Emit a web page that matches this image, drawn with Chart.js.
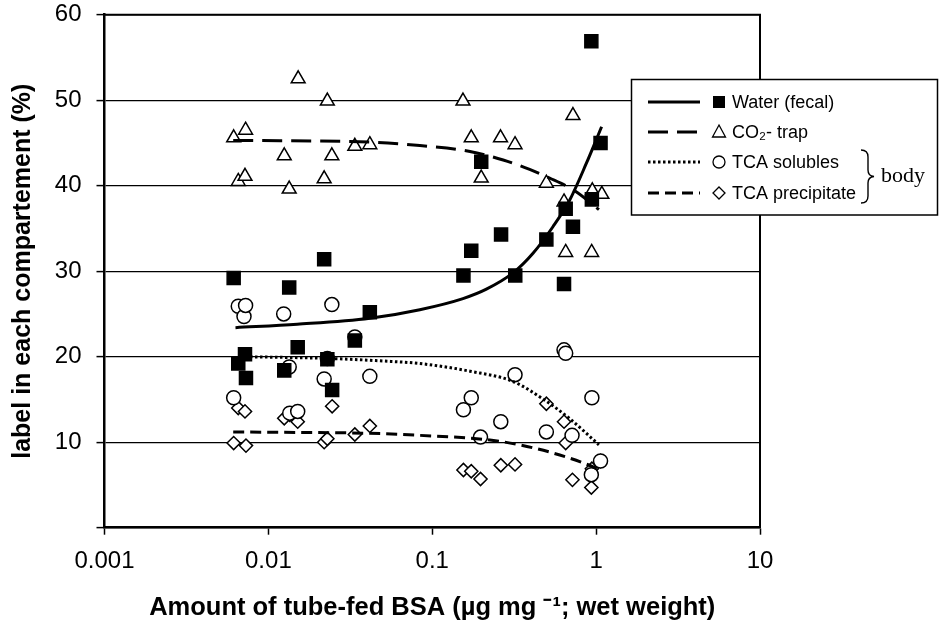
<!DOCTYPE html>
<html>
<head>
<meta charset="utf-8">
<title>Tube-fed BSA label distribution</title>
<script src="https://cdn.jsdelivr.net/npm/chart.js@4.4.1/dist/chart.umd.min.js"></script>
<style>
    html, body { margin: 0; padding: 0; background: #ffffff; }
</style>
</head>
<body>
<canvas id="bsaChart" width="939" height="625"></canvas>
<script>
// Values (x = µg/mg, y = % label)
const xTicks = [0.001, 0.01, 0.1, 1, 10];

const waterX = [0.00614, 0.00655, 0.0072, 0.0073, 0.0125, 0.0134, 0.0151, 0.0219, 0.0229, 0.0245, 0.0337, 0.0416,
                0.155, 0.173, 0.199, 0.263, 0.321, 0.497, 0.637, 0.652, 0.722, 0.935, 0.942, 1.064];
const waterY = [29.2, 19.2, 20.3, 17.5, 18.4, 28.1, 21.1, 31.4, 19.7, 16.1, 21.9, 25.2,
                29.5, 32.4, 42.8, 34.3, 29.5, 33.7, 28.5, 37.3, 35.2, 56.9, 38.4, 45.0];

const co2X = [0.00614, 0.00655, 0.0072, 0.00726, 0.0125, 0.0134, 0.0152, 0.0219, 0.0229, 0.0244, 0.0337, 0.0416,
              0.154, 0.173, 0.199, 0.261, 0.320, 0.497, 0.637, 0.652, 0.722, 0.939, 0.948, 1.084];
const co2Y = [45.6, 40.5, 41.1, 46.5, 43.5, 39.6, 52.5, 40.8, 49.9, 43.5, 44.6, 44.8,
              49.9, 45.6, 40.9, 45.6, 44.8, 40.3, 38.1, 32.2, 48.2, 32.2, 39.4, 39.0];

const solX = [0.00614, 0.00655, 0.0071, 0.00726, 0.0124, 0.0134, 0.0135, 0.0151, 0.0219, 0.0229, 0.0244, 0.0337, 0.0416,
              0.155, 0.173, 0.197, 0.262, 0.320, 0.497, 0.637, 0.652, 0.713, 0.935, 0.942, 1.064];
const solY = [15.2, 25.9, 24.7, 26.0, 25.0, 18.8, 13.4, 13.6, 17.4, 19.8, 26.1, 22.3, 17.7,
              13.8, 15.2, 10.6, 12.4, 17.9, 11.2, 20.8, 20.4, 10.8, 6.2, 15.2, 7.8];

const preX = [0.00614, 0.00655, 0.0072, 0.0073, 0.0125, 0.0135, 0.0151, 0.0219, 0.0229, 0.0245, 0.0337, 0.0416,
              0.155, 0.173, 0.197, 0.262, 0.320, 0.497, 0.637, 0.652, 0.717, 0.935, 0.942, 1.064];
const preY = [9.9, 14.0, 13.6, 9.6, 12.8, 13.2, 12.4, 10.0, 10.4, 14.2, 10.9, 11.9,
              6.75, 6.6, 5.7, 7.3, 7.4, 14.5, 12.4, 9.9, 5.6, 4.7, 6.9, 7.8];

// fitted curves
const waterFitX = [0.0063, 0.015, 0.0416, 0.084, 0.154, 0.214, 0.311, 0.412, 0.545, 0.689, 0.871, 1.08];
const waterFitY = [23.4, 23.8, 24.5, 25.5, 26.8, 27.9, 29.8, 32.1, 35.2, 38.3, 42.6, 46.9];
const co2FitX = [0.0061, 0.0416, 0.084, 0.17, 0.271, 0.393, 0.52, 0.74, 1.04];
const co2FitY = [45.3, 45.1, 44.7, 44.0, 43.0, 41.9, 40.9, 39.4, 37.2];
const solFitX = [0.0072, 0.0229, 0.05, 0.084, 0.17, 0.311, 0.496, 0.685, 1.04];
const solFitY = [20.0, 19.8, 19.5, 19.2, 18.3, 17.1, 14.8, 12.8, 9.7];
const preFitX = [0.0061, 0.05, 0.084, 0.214, 0.34, 0.6, 0.96, 1.04];
const preFitY = [11.2, 11.0, 10.8, 10.3, 9.7, 8.5, 7.1, 6.75];

function toPoints(xs, ys) {
    return xs.map((x, i) => ({ x: x, y: ys[i] }));
}

function fitLine(label, xs, ys, dash) {
    return {
        label: label,
        data: toPoints(xs, ys),
        showLine: true,
        borderColor: '#000000',
        borderWidth: 3,
        borderDash: dash,
        pointRadius: 0,
        cubicInterpolationMode: 'monotone',
        fill: false
    };
}

function markers(label, xs, ys, style, radius, fill) {
    return {
        label: label,
        data: toPoints(xs, ys),
        showLine: false,
        pointStyle: style,
        pointRadius: radius,
        pointBackgroundColor: fill,
        pointBorderColor: '#000000',
        pointBorderWidth: 1.5
    };
}

const SANS = "'Liberation Sans', Arial, sans-serif";

/**
 * Legend box with brace, plus top/right frame of the plot
 */
const legendPlugin = {
    id: 'bsaLegend',
    afterDraw(chart) {
        const ctx = chart.ctx;
        const area = chart.chartArea;
        ctx.save();

        // top and right frame
        ctx.strokeStyle = '#000000';
        ctx.lineWidth = 2;
        ctx.beginPath();
        ctx.moveTo(area.left, area.top);
        ctx.lineTo(area.right, area.top);
        ctx.lineTo(area.right, area.bottom);
        ctx.stroke();

        // legend box
        const bx = 631.5, by = 79.5, bw = 306, bh = 135.5;
        ctx.fillStyle = '#ffffff';
        ctx.fillRect(bx, by, bw, bh);
        ctx.lineWidth = 1.5;
        ctx.strokeRect(bx, by, bw, bh);

        const rows = [
            { text: 'Water (fecal)', dash: [], shape: 'square', y: 102 },
            { text: 'CO\u2082- trap', dash: [20, 9], shape: 'triangle', y: 132 },
            { text: 'TCA solubles', dash: [2.5, 2.5], shape: 'circle', y: 162 },
            { text: 'TCA precipitate', dash: [11, 6], shape: 'diamond', y: 193 }
        ];

        rows.forEach(row => {
            ctx.strokeStyle = '#000000';
            ctx.lineWidth = 3;
            ctx.setLineDash(row.dash);
            ctx.beginPath();
            ctx.moveTo(648, row.y);
            ctx.lineTo(700, row.y);
            ctx.stroke();
            ctx.setLineDash([]);

            const mx = 719, my = row.y;
            ctx.lineWidth = 1.3;
            ctx.beginPath();
            if (row.shape === 'square') {
                ctx.fillStyle = '#000000';
                ctx.fillRect(mx - 6, my - 6, 12, 12);
            } else {
                ctx.fillStyle = '#ffffff';
                if (row.shape === 'triangle') {
                    ctx.moveTo(mx, my - 7);
                    ctx.lineTo(mx + 6.5, my + 5);
                    ctx.lineTo(mx - 6.5, my + 5);
                    ctx.closePath();
                } else if (row.shape === 'circle') {
                    ctx.arc(mx, my, 6, 0, Math.PI * 2);
                } else {
                    ctx.moveTo(mx, my - 6);
                    ctx.lineTo(mx + 6, my);
                    ctx.lineTo(mx, my + 6);
                    ctx.lineTo(mx - 6, my);
                    ctx.closePath();
                }
                ctx.fill();
                ctx.stroke();
            }

            ctx.fillStyle = '#000000';
            ctx.font = '18px ' + SANS;
            ctx.textAlign = 'left';
            ctx.textBaseline = 'middle';
            ctx.fillText(row.text, 732, row.y + 1);
        });

        // brace grouping the two TCA rows
        ctx.lineWidth = 1.4;
        ctx.beginPath();
        ctx.moveTo(861, 150);
        ctx.quadraticCurveTo(868, 150, 868, 157);
        ctx.lineTo(868, 170);
        ctx.quadraticCurveTo(868, 176, 874, 176.5);
        ctx.quadraticCurveTo(868, 177, 868, 183);
        ctx.lineTo(868, 196);
        ctx.quadraticCurveTo(868, 203, 861, 203);
        ctx.stroke();

        ctx.font = "22px 'Liberation Serif', 'Times New Roman', serif";
        ctx.textBaseline = 'middle';
        ctx.fillText('body', 881, 176);

        ctx.restore();
    }
};

const chart = new Chart(document.getElementById('bsaChart'), {
    type: 'scatter',
    data: {
        datasets: [
            fitLine('Water fit', waterFitX, waterFitY, []),
            fitLine('CO2 fit', co2FitX, co2FitY, [20, 9]),
            fitLine('TCA solubles fit', solFitX, solFitY, [2.5, 2.5]),
            fitLine('TCA precipitate fit', preFitX, preFitY, [11, 6]),
            markers('Water (fecal)', waterX, waterY, 'rect', 9.2, '#000000'),
            markers('CO2- trap', co2X, co2Y, 'triangle', 8, '#ffffff'),
            markers('TCA solubles', solX, solY, 'circle', 7, '#ffffff'),
            markers('TCA precipitate', preX, preY, 'rectRot', 6.6, '#ffffff')
        ]
    },
    options: {
        responsive: false,
        animation: false,
        layout: {
            padding: { left: 0, top: 14.7, right: 179, bottom: 0 }
        },
        plugins: {
            legend: { display: false },
            tooltip: { enabled: false }
        },
        scales: {
            x: {
                type: 'logarithmic',
                min: 0.001,
                max: 10,
                afterBuildTicks: scale => {
                    scale.ticks = xTicks.map(v => ({ value: v }));
                },
                afterFit: scale => { scale.height = 97.3; },
                ticks: {
                    color: '#000000',
                    font: { family: SANS, size: 24 },
                    padding: 12,
                    maxRotation: 0,
                    callback: value => String(value)
                },
                grid: {
                    drawOnChartArea: false,
                    tickLength: 7,
                    tickWidth: 1.5,
                    tickColor: '#000000'
                },
                border: { display: true, color: '#000000', width: 2.5 },
                title: {
                    display: true,
                    text: 'Amount of tube-fed BSA (\u00b5g mg \u207b\u00b9; wet weight)',
                    color: '#000000',
                    font: { family: SANS, size: 25.5, weight: 'bold' },
                    padding: { top: 0, bottom: 2 }
                }
            },
            y: {
                min: 0,
                max: 60,
                afterFit: scale => {
                    scale.width = 104.5;
                    // let the top label sit in the page margin
                    scale.paddingTop = 0;
                    scale.paddingBottom = 0;
                },
                ticks: {
                    stepSize: 10,
                    color: '#000000',
                    font: { family: SANS, size: 24 },
                    padding: 15,
                    callback: value => value === 0 ? '' : value
                },
                grid: {
                    color: '#000000',
                    lineWidth: 1.2,
                    tickLength: 8,
                    tickWidth: 1.5,
                    tickColor: '#000000'
                },
                border: { display: true, color: '#000000', width: 2.5 },
                title: {
                    display: true,
                    text: 'label in each compartement (%)',
                    color: '#000000',
                    font: { family: SANS, size: 25, weight: 'bold' },
                    padding: { top: 8, bottom: 0 }
                }
            }
        }
    },
    plugins: [legendPlugin]
});
</script>
</body>
</html>
